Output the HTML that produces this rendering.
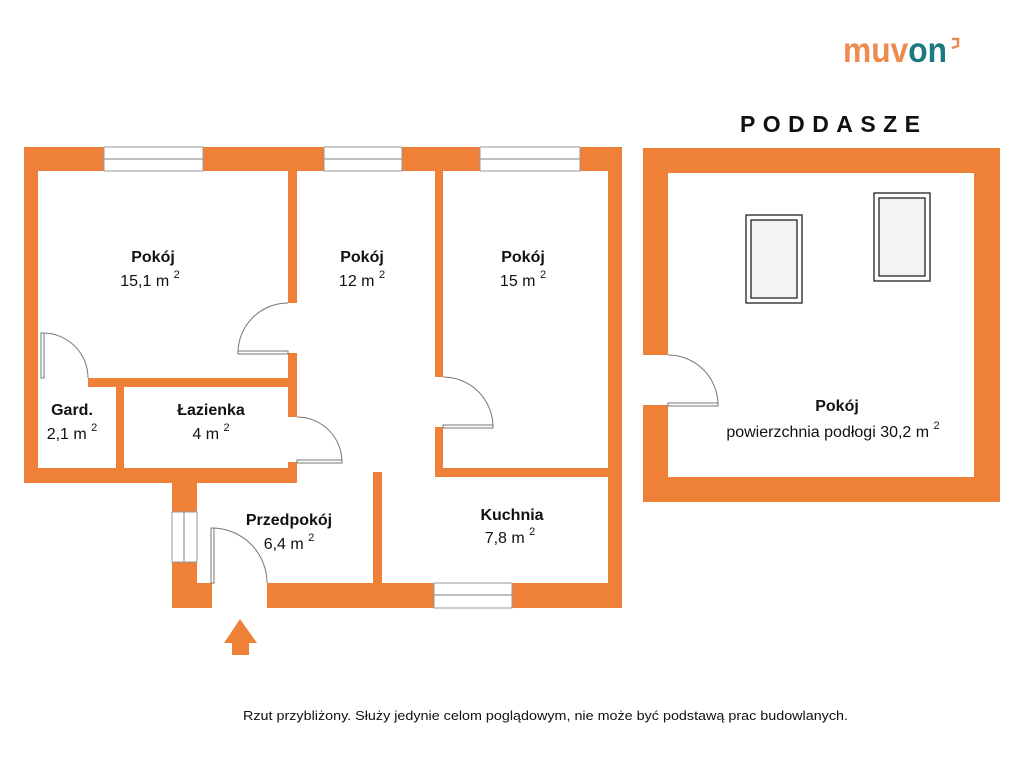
<!DOCTYPE html>
<html><head><meta charset="utf-8"><style>
html,body{margin:0;padding:0;background:#fff;}
svg{display:block;}
text{font-family:"Liberation Sans",sans-serif;fill:#111;}
</style></head><body>
<svg width="1024" height="768" viewBox="0 0 1024 768" xmlns="http://www.w3.org/2000/svg">
<rect width="1024" height="768" fill="#fff"/>
<!-- logo -->
<text x="843" y="62" font-size="35" font-weight="bold" textLength="104" lengthAdjust="spacingAndGlyphs" style="fill:#EE8A4E">muv<tspan style="fill:#1B7A80">on</tspan></text>
<path d="M952 39 L958 39 L958 46 L952 48" fill="none" stroke="#EE8A4E" stroke-width="2.5"/>
<text x="740" y="132" font-size="23" font-weight="bold" textLength="180" lengthAdjust="spacing">PODDASZE</text>

<!-- main plan -->
<g fill="#EE8038">
<polygon points="24,147 622,147 622,608 172,608 172,483 24,483"/>
</g>
<g fill="#fff">
<rect x="38" y="171" width="250" height="207"/>
<rect x="38" y="387" width="78" height="81"/>
<rect x="124" y="387" width="164" height="81"/>
<rect x="297" y="171" width="138" height="412"/>
<rect x="443" y="171" width="165" height="297"/>
<rect x="197" y="483" width="176" height="100"/>
<rect x="297" y="477" width="311" height="106"/>
<rect x="287" y="303" width="11" height="50"/>
<rect x="287" y="417" width="11" height="45"/>
<rect x="434" y="377" width="10" height="50"/>
<rect x="38" y="377" width="50" height="11"/>
<rect x="212" y="582" width="55" height="27"/>
</g>
<rect x="373" y="472" width="9" height="111" fill="#EE8038"/>
<!-- windows -->
<g fill="#fff" stroke="#999" stroke-width="1">
<rect x="104" y="147" width="99" height="24"/>
<rect x="324" y="147" width="78" height="24"/>
<rect x="480" y="147" width="100" height="24"/>
<rect x="434" y="583" width="78" height="25"/>
<rect x="172" y="512" width="25" height="50"/>
</g>
<g stroke="#999" stroke-width="1.2">
<line x1="104" y1="159" x2="203" y2="159"/>
<line x1="324" y1="159" x2="402" y2="159"/>
<line x1="480" y1="159" x2="580" y2="159"/>
<line x1="434" y1="595" x2="512" y2="595"/>
<line x1="184" y1="512" x2="184" y2="562"/>
</g>
<!-- doors -->
<g fill="none" stroke="#777" stroke-width="1">
<path d="M288 303 A50 50 0 0 0 238 353"/>
<rect x="238" y="351" width="50" height="3"/>
<path d="M443 377 A50 50 0 0 1 493 427"/>
<rect x="443" y="425" width="50" height="3"/>
<path d="M297 417 A45 45 0 0 1 342 462"/>
<rect x="297" y="460" width="45" height="3"/>
<path d="M43 333 A45 45 0 0 1 88 378"/>
<rect x="41" y="333" width="3" height="45"/>
<path d="M212 528 A55 55 0 0 1 267 583"/>
<rect x="211" y="528" width="3" height="55"/>
</g>
<!-- arrow -->
<polygon points="240,619 257,643 249,643 249,655 232,655 232,643 224,643" fill="#EE8038"/>

<!-- attic -->
<rect x="643" y="148" width="357" height="354" fill="#EE8038"/>
<rect x="668" y="173" width="306" height="304" fill="#fff"/>
<rect x="642" y="355" width="27" height="50" fill="#fff"/>
<g fill="none" stroke="#777" stroke-width="1">
<path d="M668 355 A50 50 0 0 1 718 405"/>
<rect x="668" y="403" width="50" height="3"/>
</g>
<g stroke="#222" stroke-width="1.3">
<rect x="746" y="215" width="56" height="88" fill="#fff"/>
<rect x="751" y="220" width="46" height="78" fill="#f3f3f3"/>
<rect x="874" y="193" width="56" height="88" fill="#fff"/>
<rect x="879" y="198" width="46" height="78" fill="#f3f3f3"/>
</g>

<!-- labels -->
<g font-size="16" text-anchor="middle">
<text x="153" y="262" font-weight="bold">Pokój</text>
<text x="150" y="286">15,1 m <tspan font-size="11" dy="-8">2</tspan></text>
<text x="362" y="262" font-weight="bold">Pokój</text>
<text x="362" y="286">12 m <tspan font-size="11" dy="-8">2</tspan></text>
<text x="523" y="262" font-weight="bold">Pokój</text>
<text x="523" y="286">15 m <tspan font-size="11" dy="-8">2</tspan></text>
<text x="72" y="415" font-weight="bold">Gard.</text>
<text x="72" y="439">2,1 m <tspan font-size="11" dy="-8">2</tspan></text>
<text x="211" y="415" font-weight="bold">Łazienka</text>
<text x="211" y="439">4 m <tspan font-size="11" dy="-8">2</tspan></text>
<text x="289" y="525" font-weight="bold">Przedpokój</text>
<text x="289" y="549">6,4 m <tspan font-size="11" dy="-8">2</tspan></text>
<text x="512" y="520" font-weight="bold">Kuchnia</text>
<text x="510" y="543">7,8 m <tspan font-size="11" dy="-8">2</tspan></text>
<text x="837" y="411" font-weight="bold">Pokój</text>
<text x="833" y="437">powierzchnia podłogi 30,2 m <tspan font-size="11" dy="-8">2</tspan></text>
</g>
<text x="243" y="720" font-size="13" textLength="605" lengthAdjust="spacingAndGlyphs">Rzut przybliżony. Służy jedynie celom poglądowym, nie może być podstawą prac budowlanych.</text>
</svg>
</body></html>
